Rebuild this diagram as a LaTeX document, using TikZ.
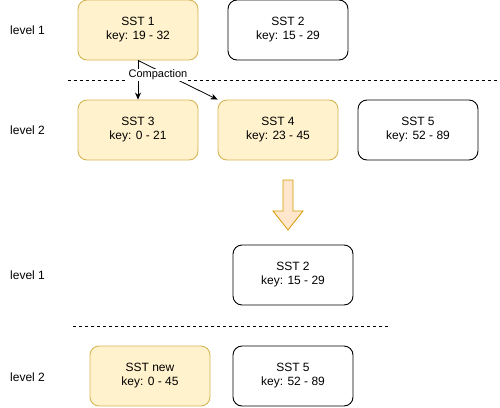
\documentclass[tikz,border=0pt]{standalone}
\usepackage{fontspec}
\setmainfont{Liberation Sans}
\usepackage{xcolor}
\usetikzlibrary{arrows.meta,positioning,calc}
\definecolor{sstfill}{HTML}{FFF2CC}
\definecolor{sstdraw}{HTML}{D6B656}
\definecolor{movefill}{HTML}{FFE6CC}
\definecolor{movedraw}{HTML}{D79B00}

\begin{document}
\begin{tikzpicture}[
    x=1pt, y=-1pt,
    font=\fontsize{12}{14}\selectfont,
    sst/.style={rectangle, draw, rounded corners=9pt, minimum height=60pt, minimum width=120pt, fill=white, align=center, line width=0.9pt},
    merged/.style={sst, fill=sstfill, draw=sstdraw},
    levellabel/.style={anchor=west, inner sep=0pt},
    divider/.style={dash pattern=on 3pt off 3pt, line width=0.8pt},
    arrow/.style={-{Stealth[length=7pt, width=6pt]}, line width=0.8pt}
]
    \useasboundingbox (0,0) rectangle (500,407);

    % --- 1. Before compaction ---
    \node[levellabel] (lvlA) at (10,30) {level 1};
    \node[levellabel] (lvlB) at (10,130) {level 2};

    \node[merged] (sst1) at (138,30) {SST 1\\key: 19 - 32};
    \node[sst] (sst2) at (288,30) {SST 2\\key: 15 - 29};

    \node[merged] (sst3) at (138,130) {SST 3\\key: 0 - 21};
    \node[merged] (sst4) at (278,130) {SST 4\\key: 23 - 45};
    \node[sst] (sst5) at (418,130) {SST 5\\key: 52 - 89};

    \coordinate (topL) at (68,80);
    \coordinate (topR) at (500,80);
    \draw[divider] (topL) -- (topR);

    % Compaction arrows
    \draw[arrow] (sst1.south) -- (sst3.north);
    \draw[arrow] (sst1.south) -- (sst4.north west);
    \node[fill=white, inner sep=1pt, font=\fontsize{11}{13}\selectfont] (compact) at (158,75) {Compaction};

    % --- 2. Transition arrow ---
    \draw[fill=movefill, draw=movedraw, line width=0.8pt]
        (283,180) -- (293,180) -- (293,211) -- (303,211) -- (288,230)
        -- (273,211) -- (283,211) -- cycle;

    % --- 3. After compaction ---
    \node[levellabel] (lvlC) at (10,275) {level 1};
    \node[levellabel] (lvlD) at (10,377) {level 2};

    \node[sst] (sst2b) at (293,275) {SST 2\\key: 15 - 29};

    \coordinate (botL) at (73,326);
    \coordinate (botR) at (388,326);
    \draw[divider] (botL) -- (botR);

    \node[merged] (sstnew) at (150,376) {SST new\\key: 0 - 45};
    \node[sst] (sst5b) at (293,376) {SST 5\\key: 52 - 89};

\end{tikzpicture}
\end{document}
